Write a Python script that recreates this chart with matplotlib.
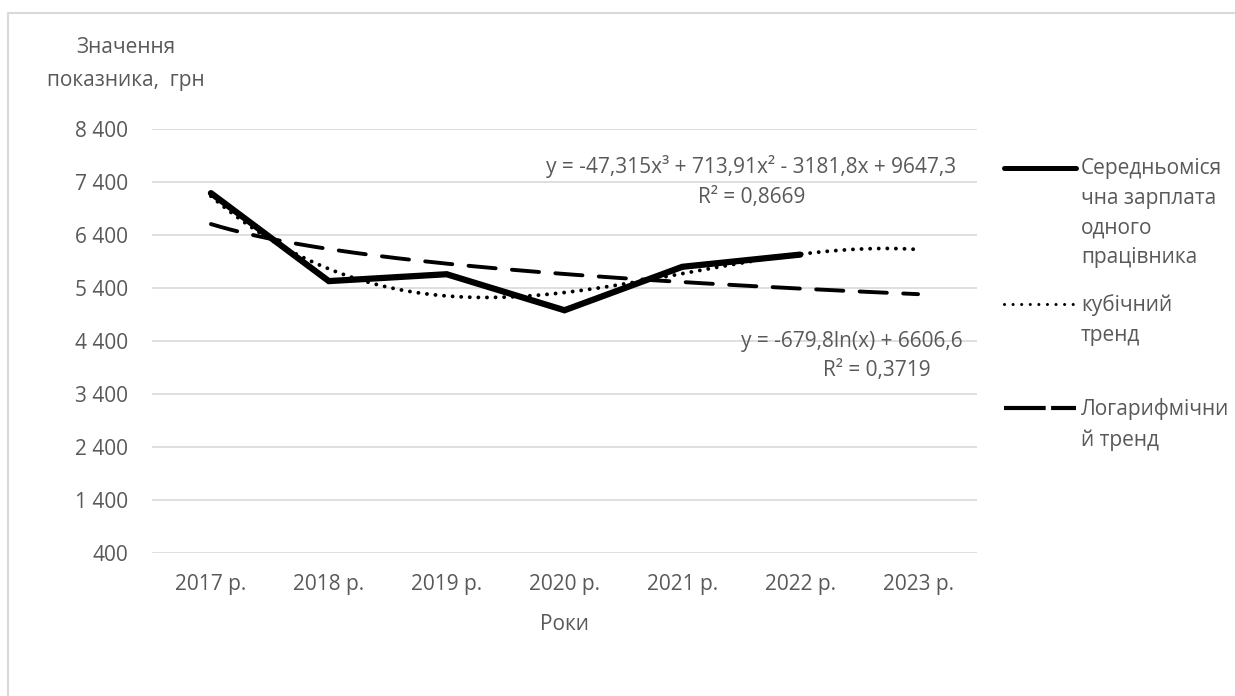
import numpy as np
import matplotlib.pyplot as plt
from matplotlib.lines import Line2D

plt.rcParams['font.family'] = ['Open Sans', 'DejaVu Sans']

# data
years = ['2017 р.', '2018 р.', '2019 р.', '2020 р.', '2021 р.', '2022 р.', '2023 р.']
salary = [7190, 5530, 5660, 4980, 5800, 6030]          # 2017-2022
cubic_coef = [-47.315, 713.91, -3181.8, 9647.3]         # printed trend equation
log_coef = [-679.8, 6606.6]                             # y = a*ln(x) + b
y_ticks = [400, 1400, 2400, 3400, 4400, 5400, 6400, 7400, 8400]

labels = ['Середньомісячна зарплата одного працівника', 'кубічний тренд', 'Логарифмічний тренд']
legend_lines = ['Середньоміся\nчна зарплата\nодного\nпрацівника', 'кубічний\nтренд', 'Логарифмічни\nй тренд']

TXT = '#595959'
GRID = '#d9d9d9'
FS = 15
W, H = 1235, 696

def fx(x):
    return x / W

def fy(y):
    return 1 - y / H

fig = plt.figure(figsize=(W / 100, H / 100), dpi=100)
ax = fig.add_axes([fx(152), fy(553), 825 / W, 424 / H])

# main series
ax.plot(range(len(salary)), salary, color='black', lw=4.5,
        solid_capstyle='round', solid_joinstyle='miter', zorder=4)

# trend lines (Excel x = 1..7)
t = np.linspace(1, len(years), 300)
ax.plot(t - 1, np.polyval(cubic_coef, t), color='black', lw=2.8,
        dashes=(0.01, 2.2), dash_capstyle='round', zorder=3)
ax.plot(t - 1, log_coef[0] * np.log(t) + log_coef[1], color='black', lw=2.8,
        dashes=(7.0, 4.2), dash_capstyle='round', zorder=3)

ax.set_xlim(-0.5, len(years) - 0.5)
ax.set_ylim(400, 8400)
ax.set_yticks(y_ticks)
ax.set_yticklabels([f'{v:,}'.replace(',', ' ') for v in y_ticks])
ax.set_xticks(range(len(years)))
ax.set_xticklabels(years)
ax.grid(axis='y', color=GRID, lw=1.2)
ax.set_axisbelow(True)
for s in ax.spines.values():
    s.set_visible(False)
ax.tick_params(axis='both', length=0, colors=TXT, labelsize=FS)
ax.tick_params(axis='y', pad=17)
ax.tick_params(axis='x', pad=15)

# axis titles
fig.text(fx(126), fy(64), 'Значення\nпоказника,  грн', ha='center', va='center',
         color=TXT, fontsize=FS, linespacing=1.7)
fig.text(fx(564), fy(624), 'Роки', ha='center', va='center', color=TXT, fontsize=FS)

# trend equations
fig.text(fx(751), fy(167), 'y = -47,315x³ + 713,91x² - 3181,8x + 9647,3',
         ha='center', va='center', color=TXT, fontsize=FS)
fig.text(fx(752), fy(197), 'R² = 0,8669', ha='center', va='center', color=TXT, fontsize=FS)
fig.text(fx(852), fy(342), 'y = -679,8ln(x) + 6606,6', ha='center', va='center',
         color=TXT, fontsize=FS)
fig.text(fx(877), fy(370), 'R² = 0,3719', ha='center', va='center', color=TXT, fontsize=FS)

# legend on the right
styles = [dict(lw=3.6, solid_capstyle='round'),
          dict(lw=2.2, dashes=(0.01, 2.8), dash_capstyle='round'),
          dict(lw=3.0, dashes=(10, 1.3), dash_capstyle='butt')]
rows = [168, 304, 408]
for txt, y, st in zip(legend_lines, rows, styles):
    fig.add_artist(Line2D([fx(1004), fx(1076)], [fy(y), fy(y)], color='black', **st))
    fig.text(fx(1081), fy(y - 10), txt, ha='left', va='top', color=TXT,
             fontsize=FS, linespacing=1.55)

# chart area border (left and top edges visible)
fig.add_artist(Line2D([fx(8), fx(8), fx(1240)], [fy(700), fy(13), fy(13)],
                      color=GRID, lw=1.5))

fig.savefig('out.png', dpi=100)
